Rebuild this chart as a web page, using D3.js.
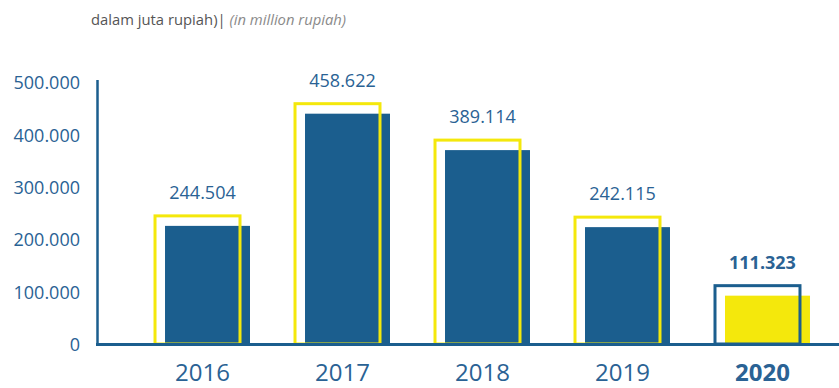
<!DOCTYPE html>
<html>
<head>
<meta charset="utf-8">
<script src="https://cdn.jsdelivr.net/npm/d3@7"></script>
<style>
  body { margin: 0; background: #fff; }
  svg { display: block; font-family: 'Open Sans', sans-serif; }
</style>
</head>
<body>
<div id="chart"></div>
<script>
const years = ['2016', '2017', '2018', '2019', '2020'];
const values = [244504, 458622, 389114, 242115, 111323];
const yTicks = [0, 100000, 200000, 300000, 400000, 500000];
const highlightYear = '2020';

const WIDTH = 839;
const HEIGHT = 388;
const BLUE = '#1b5e8e';
const TEXT_BLUE = '#2a6294';
const YELLOW = '#f4e80c';
const SHIFT = 10; // filled bar sits down-right of its outline

const fmt = d3.formatLocale({ decimal: ',', thousands: '.', grouping: [3], currency: ['', ''] }).format(',');

const svg = d3
  .select('#chart')
  .append('svg')
  .attr('width', WIDTH)
  .attr('height', HEIGHT);

const x = d3.scaleBand()
  .domain(years)
  .range([128, 827])
  .paddingInner(0.393)
  .paddingOuter(0.193);

const y = d3.scaleLinear().domain([0, 500000]).range([344, 82]);

// title
const title = svg.append('text')
  .attr('x', 91)
  .attr('y', 25)
  .attr('font-size', '14.8px');
title.append('tspan').attr('fill', '#555').text('dalam juta rupiah)| ');
title.append('tspan').attr('fill', '#8a8a8a').attr('font-style', 'italic').text('(in million rupiah)');

// y tick labels
const yAxis = svg.append('g')
  .attr('transform', 'translate(97,1)')
  .call(d3.axisLeft(y).tickValues(yTicks).tickFormat(fmt).tickSize(0).tickPadding(17));
yAxis.select('.domain').remove();
yAxis.selectAll('text')
  .attr('font-family', "'Open Sans', sans-serif")
  .attr('font-size', '18px')
  .attr('fill', TEXT_BLUE);

const rows = years.map((yr, i) => ({ year: yr, value: values[i] }));

// filled bars
svg.append('g')
  .selectAll('rect')
  .data(rows)
  .join('rect')
  .attr('x', (d) => x(d.year) + SHIFT)
  .attr('y', (d) => y(d.value) + SHIFT)
  .attr('width', x.bandwidth())
  .attr('height', (d) => y(0) - y(d.value) - SHIFT)
  .attr('fill', (d) => (d.year === highlightYear ? YELLOW : BLUE));

// outlines
svg.append('g')
  .selectAll('rect')
  .data(rows)
  .join('rect')
  .attr('x', (d) => x(d.year))
  .attr('y', (d) => y(d.value))
  .attr('width', x.bandwidth())
  .attr('height', (d) => y(0) - y(d.value))
  .attr('fill', 'none')
  .attr('stroke', (d) => (d.year === highlightYear ? BLUE : YELLOW))
  .attr('stroke-width', 3);

// axis lines
svg.append('line')
  .attr('x1', 97.5).attr('x2', 97.5)
  .attr('y1', 80).attr('y2', y(0))
  .attr('stroke', BLUE).attr('stroke-width', 2.5);
svg.append('line')
  .attr('x1', 96).attr('x2', WIDTH)
  .attr('y1', y(0) + 0.5).attr('y2', y(0) + 0.5)
  .attr('stroke', BLUE).attr('stroke-width', 3);

// value labels
svg.append('g')
  .selectAll('text')
  .data(rows)
  .join('text')
  .attr('x', (d) => x(d.year) + x.bandwidth() / 2 + 5)
  .attr('y', (d) => y(d.value) - 17)
  .attr('text-anchor', 'middle')
  .attr('font-size', '18px')
  .attr('font-weight', (d) => (d.year === highlightYear ? 700 : 400))
  .attr('fill', TEXT_BLUE)
  .text((d) => fmt(d.value));

// year labels
svg.append('g')
  .selectAll('text')
  .data(rows)
  .join('text')
  .attr('x', (d) => x(d.year) + x.bandwidth() / 2 + 5)
  .attr('y', 381)
  .attr('text-anchor', 'middle')
  .attr('font-size', '24px')
  .attr('font-weight', (d) => (d.year === highlightYear ? 700 : 400))
  .attr('fill', TEXT_BLUE)
  .text((d) => d.year);
</script>
</body>
</html>
